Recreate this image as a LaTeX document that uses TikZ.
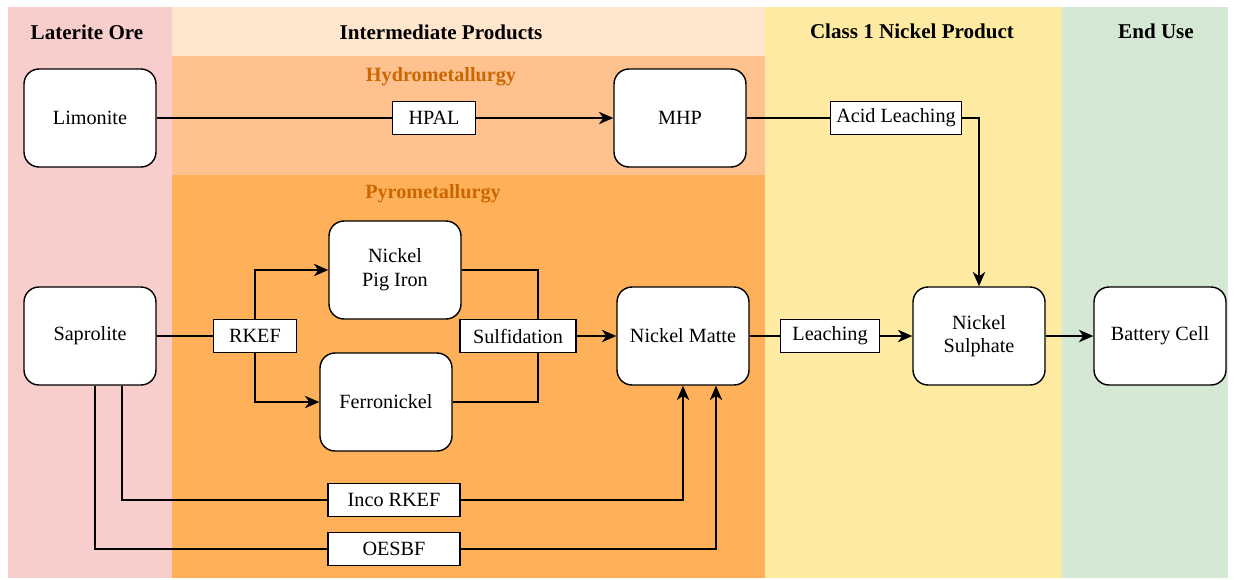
\documentclass[tikz,border=0pt]{standalone}
\usepackage{fontspec}
\setmainfont{Liberation Serif}
\usetikzlibrary{positioning,arrows.meta}
\definecolor{oreBg}{RGB}{248,206,205}
\definecolor{interBg}{RGB}{255,230,204}
\definecolor{hydroBg}{RGB}{255,194,143}
\definecolor{pyroBg}{RGB}{255,177,89}
\definecolor{classBg}{RGB}{255,234,161}
\definecolor{endBg}{RGB}{213,232,212}
\definecolor{subText}{RGB}{204,102,0}

\begin{document}
\begin{tikzpicture}[x=0.02cm, y=-0.02cm, >={Stealth[length=2.9mm, width=2.5mm, inset=0.9mm]}, every node/.style={font=\fontsize{11.5}{13.5}\selectfont}, stage/.style={draw, fill=white, rounded corners=0.3cm, align=center, minimum width=2.64cm, minimum height=1.96cm, line width=0.8pt}, proc/.style={draw, fill=white, minimum height=0.66cm, inner xsep=2pt, line width=0.8pt}, head/.style={font=\fontsize{12}{14}\selectfont\bfseries}, sub/.style={font=\fontsize{11.5}{13.5}\selectfont\bfseries, text=subText}, flow/.style={line width=0.8pt}]

\useasboundingbox (0,0) rectangle (1236,579);

%columns
\fill[oreBg] (8,7) rectangle (172,578);
\fill[interBg] (172,7) rectangle (765,56);
\fill[hydroBg] (172,56) rectangle (765,175);
\fill[pyroBg] (172,175) rectangle (765,578);
\fill[classBg] (765,7) rectangle (1062,578);
\fill[endBg] (1062,7) rectangle (1228,578);

\node[head] (oreHead) at (87,32) {Laterite Ore};
\node[head] (interHead) at (441,32) {Intermediate Products};
\node[head] (classHead) at (912,31) {Class 1 Nickel Product};
\node[head] (endHead) at (1156,31) {End Use};
\node[sub] (hydroHead) at (441,77) {Hydrometallurgy};
\node[sub] (pyroHead) at (433,194) {Pyrometallurgy};

%products
\node[stage] (limonite) at (90,118) {Limonite};
\node[stage] (saprolite) at (90,336) {Saprolite};
\node[stage] (mhp) at (680,118) {MHP};
\node[stage] (npi) at (395,270) {Nickel\\Pig Iron};
\node[stage] (ferro) at (386,402) {Ferronickel};
\node[stage] (matte) at (683,336) {Nickel Matte};
\node[stage] (sulphate) at (979,336) {Nickel\\Sulphate};
\node[stage] (battery) at (1160,336) {Battery Cell};

%processes
\node[proc, minimum width=1.66cm] (hpal) at (434,118) {HPAL};
\node[proc, minimum width=2.62cm] (acid) at (896,118) {Acid Leaching};
\node[proc, minimum width=1.66cm] (rkef) at (255,336) {RKEF};
\node[proc, minimum width=2.32cm] (sulf) at (518,336) {Sulfidation};
\node[proc, minimum width=1.98cm] (leach) at (830,336) {Leaching};
\node[proc, minimum width=2.64cm] (inco) at (394,500) {Inco RKEF};
\node[proc, minimum width=2.64cm] (oesbf) at (394,549) {OESBF};

\draw[flow] (limonite) -- (hpal);
\draw[flow, ->] (hpal) -- (mhp);
\draw[flow] (mhp) -- (acid);
\draw[flow, ->] (acid) -| (sulphate);
\draw[flow] (saprolite) -- (rkef);
\draw[flow, ->] (rkef) |- (npi);
\draw[flow, ->] (rkef) |- (ferro);
\draw[flow] (npi) -| ([xshift=0.4cm]sulf.north);
\draw[flow] (ferro) -| ([xshift=0.4cm]sulf.south);
\draw[flow, ->] (sulf) -- (matte);
\draw[flow] (matte) -- (leach);
\draw[flow, ->] (leach) -- (sulphate);
\draw[flow, ->] (sulphate) -- (battery);
\draw[flow] ([xshift=0.64cm]saprolite.south) |- (inco);
\draw[flow, ->] (inco) -| (matte.south);
\draw[flow] ([xshift=0.1cm]saprolite.south) |- (oesbf);
\draw[flow, ->] (oesbf) -| ([xshift=0.66cm]matte.south);
\end{tikzpicture}
\end{document}
